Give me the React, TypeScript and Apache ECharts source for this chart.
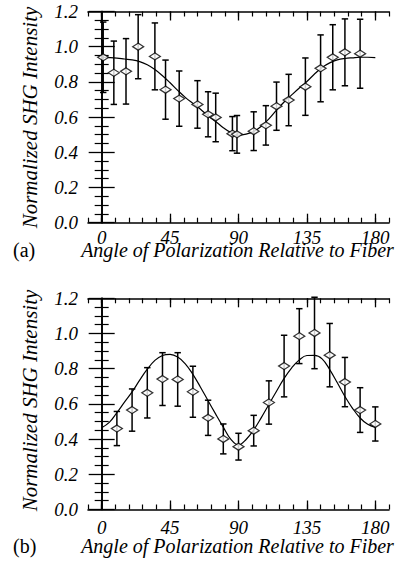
import React, { useEffect, useRef } from "react";
import * as echarts from "echarts";

// Panel (a) measurements
const ANGLES_A = [1, 8, 16, 24, 35, 42, 51, 63, 70, 75, 86, 89, 100, 108, 115, 123, 134, 144, 152, 160, 170];
const INTENSITY_A = [0.94, 0.852, 0.86, 1.0, 0.945, 0.756, 0.705, 0.672, 0.616, 0.598, 0.506, 0.502, 0.52, 0.553, 0.662, 0.697, 0.773, 0.877, 0.94, 0.968, 0.96];
const ERROR_A = [0.2, 0.18, 0.186, 0.182, 0.19, 0.168, 0.157, 0.135, 0.128, 0.138, 0.097, 0.107, 0.11, 0.112, 0.137, 0.146, 0.163, 0.19, 0.185, 0.19, 0.196];

// Panel (a) fitted curve
const FIT_ANGLES_A = [0, 5, 10, 15, 20, 25, 30, 35, 40, 45, 50, 55, 60, 65, 70, 75, 80, 85, 90, 95, 100, 105, 110, 115, 120, 125, 130, 135, 140, 145, 150, 155, 160, 165, 170, 175, 180];
const FIT_A = [0.94, 0.938, 0.935, 0.93, 0.925, 0.915, 0.897, 0.87, 0.835, 0.795, 0.752, 0.712, 0.678, 0.645, 0.607, 0.575, 0.54, 0.512, 0.497, 0.503, 0.518, 0.548, 0.59, 0.64, 0.686, 0.726, 0.765, 0.802, 0.845, 0.882, 0.908, 0.925, 0.933, 0.937, 0.94, 0.94, 0.938];

// Panel (b) measurements
const ANGLES_B = [10, 20, 30, 40, 50, 60, 70, 80, 90, 100, 110, 120, 130, 140, 150, 160, 170, 180];
const INTENSITY_B = [0.46, 0.565, 0.663, 0.741, 0.739, 0.669, 0.521, 0.401, 0.357, 0.448, 0.608, 0.815, 0.985, 1.003, 0.877, 0.724, 0.565, 0.486];
const ERROR_B = [0.097, 0.12, 0.143, 0.15, 0.152, 0.145, 0.1, 0.085, 0.076, 0.087, 0.123, 0.175, 0.156, 0.203, 0.18, 0.14, 0.127, 0.097];

// Panel (b) fitted curve
const FIT_ANGLES_B = [0, 5, 10, 15, 20, 25, 30, 35, 40, 45, 50, 55, 60, 65, 70, 75, 80, 85, 90, 95, 100, 105, 110, 115, 120, 125, 130, 135, 140, 145, 150, 155, 160, 165, 170, 175, 180];
const FIT_B = [0.465, 0.495, 0.55, 0.61, 0.668, 0.735, 0.797, 0.847, 0.875, 0.881, 0.866, 0.828, 0.768, 0.695, 0.618, 0.542, 0.468, 0.398, 0.366, 0.398, 0.452, 0.522, 0.597, 0.672, 0.745, 0.805, 0.85, 0.875, 0.876, 0.856, 0.795, 0.72, 0.642, 0.575, 0.52, 0.484, 0.467];

const X_MAJOR = [0, 45, 90, 135, 180];
const Y_LABELS = ["0.0", "0.2", "0.4", "0.6", "0.8", "1.0", "1.2"];

const X_TITLE = "Angle of Polarization Relative to Fiber";
const Y_TITLE = "Normalized SHG Intensity";
const PANEL_LABELS = ["(a)", "(b)"];

const SERIF = "Liberation Serif";
const INK = "#000";

export default function App() {
  const ref = useRef<HTMLDivElement>(null);

  useEffect(() => {
    if (!ref.current) return;
    const chart = echarts.init(ref.current, undefined, { renderer: "svg" });

    const grids = [
      { left: 88, right: 14, top: 11.5, height: 211.2 },
      { left: 88, right: 14, top: 298.3, height: 211.2 },
    ];
    const xLabelMargins = [9, 12];

    const xAxes: any[] = [];
    const yAxes: any[] = [];
    grids.forEach((_, g) => {
      const base = {
        gridIndex: g,
        type: "value",
        min: -9,
        max: 189,
        splitLine: { show: false },
      };
      for (const pos of ["bottom", "top"]) {
        xAxes.push({
          ...base,
          position: pos,
          interval: 9,
          axisLine: { show: true, lineStyle: { color: INK, width: 1.6 } },
          axisTick: { show: true, inside: true, length: 5, lineStyle: { color: INK, width: 1.2 } },
          axisLabel: {
            show: pos === "bottom",
            margin: xLabelMargins[g],
            color: INK,
            fontFamily: SERIF,
            fontStyle: "italic",
            fontSize: 19,
            lineHeight: 12,
            formatter: (v: number) => (X_MAJOR.indexOf(Math.round(v)) >= 0 ? String(Math.round(v)) : ""),
          },
        });
        xAxes.push({
          ...base,
          position: pos,
          axisLine: { show: false },
          axisTick: { show: true, inside: true, length: 9, customValues: X_MAJOR, lineStyle: { color: INK, width: 1.3 } },
          axisLabel: { show: false },
        });
      }
      for (const pos of ["left", "right"]) {
        yAxes.push({
          gridIndex: g,
          type: "value",
          position: pos,
          min: 0,
          max: 1.2,
          interval: 0.2,
          splitLine: { show: false },
          axisLine: { show: true, lineStyle: { color: INK, width: 1.6 } },
          axisTick: { show: true, inside: true, length: 13, lineStyle: { color: INK, width: 1.3 } },
          minorTick: { show: true, splitNumber: 4, length: 7, lineStyle: { color: INK, width: 1.2 } },
          minorSplitLine: { show: false },
          axisLabel: {
            show: pos === "left",
            margin: 10,
            color: INK,
            fontFamily: SERIF,
            fontStyle: "italic",
            fontSize: 19,
            formatter: (v: number) => Y_LABELS[Math.round(v / 0.2)] ?? "",
          },
        });
      }
    });

    const errorRender = (params: any, api: any) => {
      const x = api.value(0);
      const lo = api.value(1);
      const hi = api.value(2);
      const top = api.coord([x, hi]);
      const bot = api.coord([x, lo]);
      const hw = 3.2;
      const style = { stroke: INK, lineWidth: 1.5 };
      return {
        type: "group",
        children: [
          { type: "line", shape: { x1: top[0], y1: top[1], x2: bot[0], y2: bot[1] }, style },
          { type: "line", shape: { x1: top[0] - hw, y1: top[1], x2: top[0] + hw, y2: top[1] }, style },
          { type: "line", shape: { x1: bot[0] - hw, y1: bot[1], x2: bot[0] + hw, y2: bot[1] }, style },
        ],
      };
    };

    const panels = [
      { angles: ANGLES_A, vals: INTENSITY_A, errs: ERROR_A, fitX: FIT_ANGLES_A, fitY: FIT_A },
      { angles: ANGLES_B, vals: INTENSITY_B, errs: ERROR_B, fitX: FIT_ANGLES_B, fitY: FIT_B },
    ];

    const series: any[] = [];
    panels.forEach((p, g) => {
      const xi = g * 4;
      const yi = g * 2;
      series.push({
        type: "line",
        xAxisIndex: xi,
        yAxisIndex: yi,
        data: p.fitX.map((a, i) => [a, p.fitY[i]]),
        smooth: 0.4,
        showSymbol: false,
        lineStyle: { color: INK, width: 1.2 },
        z: 2,
      });
      series.push({
        type: "custom",
        xAxisIndex: xi,
        yAxisIndex: yi,
        renderItem: errorRender,
        encode: { x: 0, y: [1, 2] },
        data: p.angles.map((a, i) => [a, p.vals[i] - p.errs[i], p.vals[i] + p.errs[i]]),
        z: 3,
      });
      series.push({
        type: "scatter",
        xAxisIndex: xi,
        yAxisIndex: yi,
        data: p.angles.map((a, i) => [a, p.vals[i]]),
        symbol: "diamond",
        symbolSize: [11, 7],
        itemStyle: { color: "#fff", borderColor: INK, borderWidth: 1.3 },
        z: 4,
      });
    });

    const graphic: any[] = [];
    [250, 545.5].forEach((y, g) => {
      graphic.push({
        type: "text",
        x: 237.5,
        y,
        style: { text: X_TITLE, fontFamily: SERIF, fontStyle: "italic", fontSize: 20, lineHeight: 12, fill: INK, align: "center", verticalAlign: "middle" },
      });
      graphic.push({
        type: "text",
        x: 13,
        y,
        style: { text: PANEL_LABELS[g], fontFamily: SERIF, fontSize: 20, lineHeight: 12, fill: INK, align: "left", verticalAlign: "middle" },
      });
    });
    [117.5, 400.5].forEach((y) => {
      graphic.push({
        type: "text",
        x: 30,
        y,
        rotation: Math.PI / 2,
        style: { text: Y_TITLE, fontFamily: SERIF, fontStyle: "italic", fontSize: 21, fill: INK, align: "center", verticalAlign: "middle" },
      });
    });

    chart.setOption({
      animation: false,
      backgroundColor: "#fff",
      grid: grids,
      xAxis: xAxes,
      yAxis: yAxes,
      series,
      graphic,
    });

    return () => chart.dispose();
  }, []);

  return (
    <div
      ref={ref}
      style={{ position: "fixed", left: 0, top: 0, width: 403, height: 562 }}
    />
  );
}
